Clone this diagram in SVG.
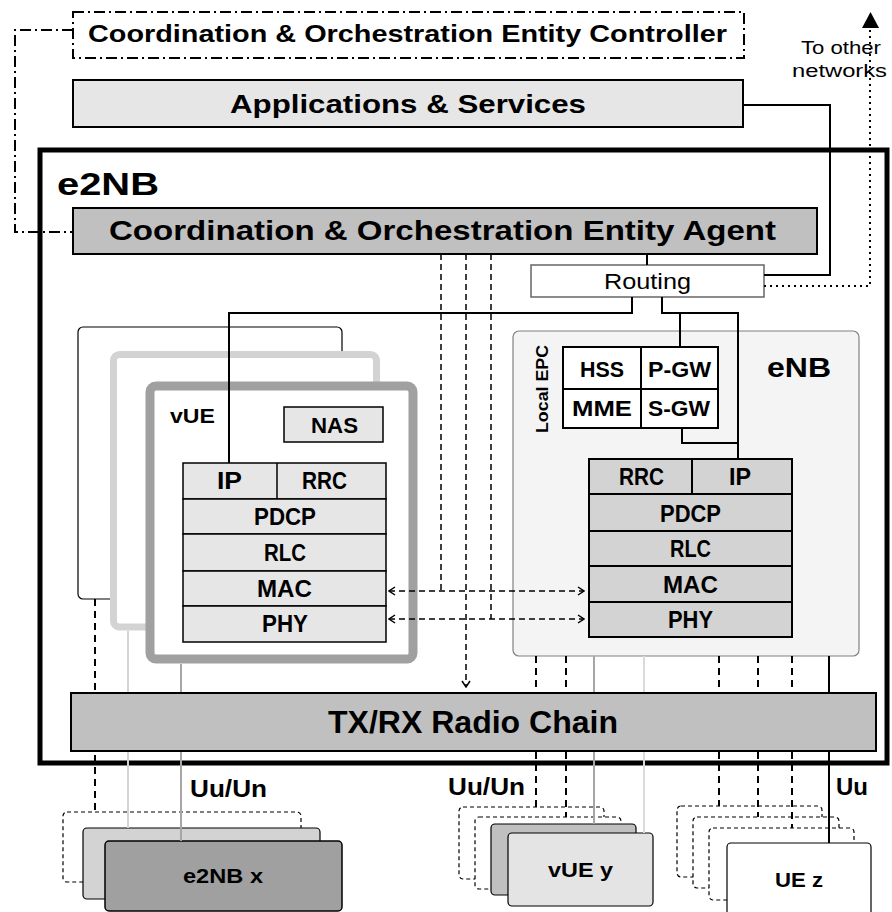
<svg xmlns="http://www.w3.org/2000/svg" width="892" height="912" viewBox="0 0 892 912">
<defs>
<style>
text{font-family:"Liberation Sans",Arial,sans-serif;font-weight:bold;fill:#000}
.reg{font-weight:normal}
.box{stroke:#000;stroke-width:2}
.l1{fill:#e6e6e6}
.l2{fill:#c0c0c0}
.l3{fill:#d3d3d3}
.ln{fill:none;stroke:#000;stroke-width:2}
.dsh{fill:none;stroke:#000;stroke-width:2;stroke-dasharray:7 5}
.dthin{fill:none;stroke:#000;stroke-width:1.5;stroke-dasharray:6 4}
.dbox{fill:#fff;stroke:#000;stroke-width:1.2;stroke-dasharray:4 3}
.dd{fill:none;stroke:#000;stroke-width:2;stroke-dasharray:11 4 2 4}
</style>
<marker id="chev" viewBox="0 0 8 10" refX="7" refY="5" markerWidth="8" markerHeight="10" markerUnits="userSpaceOnUse" orient="auto-start-reverse">
<path d="M1,1 L7,5 L1,9" fill="none" stroke="#000" stroke-width="1.5"/>
</marker>
</defs>
<rect width="892" height="912" fill="#fff"/>

<g id="e2nb">
<rect x="40" y="150" width="847" height="613" fill="none" stroke="#000" stroke-width="5"/>
<text x="57" y="195" font-size="31" textLength="102" lengthAdjust="spacingAndGlyphs">e2NB</text>
</g>

<g id="controller">
<rect x="73" y="12" width="671" height="46" fill="#fff" class="dd"/>
<text x="88" y="42" font-size="24" textLength="639" lengthAdjust="spacingAndGlyphs">Coordination &amp; Orchestration Entity Controller</text>
</g>

<g id="apps">
<rect x="73" y="80" width="670" height="47" class="box l1"/>
<text x="230" y="113" font-size="26" textLength="356" lengthAdjust="spacingAndGlyphs">Applications &amp; Services</text>
</g>

<g id="agent">
<rect x="73" y="208" width="744" height="46" class="box l2"/>
<text x="109" y="240" font-size="28" textLength="667" lengthAdjust="spacingAndGlyphs">Coordination &amp; Orchestration Entity Agent</text>
</g>

<g id="routing">
<rect x="531" y="265" width="233" height="32" fill="#fff" stroke="#666" stroke-width="1.5"/>
<text class="reg" x="604" y="289" font-size="22" textLength="87" lengthAdjust="spacingAndGlyphs">Routing</text>
</g>

<g id="vue-frames">
<rect x="78" y="327" width="264" height="272" rx="5" fill="#fff" stroke="#000" stroke-width="1.2"/>
<rect x="113.5" y="354.5" width="263" height="272.5" rx="6" fill="#fff" stroke="#d3d3d3" stroke-width="7"/>
<rect x="150" y="386" width="263" height="273" rx="6" fill="#fff" stroke="#a0a0a0" stroke-width="9"/>
<text x="170" y="423" font-size="20" textLength="45" lengthAdjust="spacingAndGlyphs">vUE</text>
</g>

<g id="enb-frame">
<rect x="513" y="331" width="346" height="325" rx="6" fill="#f4f4f4" stroke="#808080" stroke-width="1.2"/>
<text x="767" y="377" font-size="28" textLength="64" lengthAdjust="spacingAndGlyphs">eNB</text>
<text transform="translate(548,433) rotate(-90)" x="0" y="0" font-size="17" textLength="88" lengthAdjust="spacingAndGlyphs">Local EPC</text>
</g>

<g id="e2nb-x">
<rect x="63" y="812" width="238" height="70" rx="4" class="dbox"/>
<rect x="83" y="828" width="237" height="71" rx="4" fill="#d3d3d3" stroke="#000" stroke-width="1.2"/>
<rect x="105" y="841" width="237" height="70" rx="4" fill="#a0a0a0" stroke="#000" stroke-width="1.5"/>
<text x="183" y="883" font-size="21" textLength="80" lengthAdjust="spacingAndGlyphs">e2NB x</text>
</g>

<g id="vue-y">
<rect x="459" y="807" width="145" height="72" rx="4" class="dbox"/>
<rect x="475" y="817" width="146" height="72" rx="4" class="dbox"/>
<rect x="491" y="824" width="145" height="71" rx="4" fill="#c0c0c0" stroke="#000" stroke-width="1.2"/>
<rect x="508" y="833" width="145" height="73" rx="4" fill="#e4e4e4" stroke="#000" stroke-width="1.2"/>
<text x="548" y="877" font-size="21" textLength="65" lengthAdjust="spacingAndGlyphs">vUE y</text>
</g>

<g id="ue-z">
<rect x="677" y="806" width="145" height="71" rx="4" class="dbox"/>
<rect x="693" y="817" width="146" height="71" rx="4" class="dbox"/>
<rect x="709" y="828" width="145" height="72" rx="4" class="dbox"/>
<rect x="727" y="843" width="144" height="80" rx="4" fill="#fff" stroke="#000" stroke-width="1.2"/>
<text x="775" y="887" font-size="21" textLength="48" lengthAdjust="spacingAndGlyphs">UE z</text>
</g>

<g id="connectors">
<path class="dd" d="M73,30 H15 V232 H73"/>
<path class="ln" d="M743,105 H830 V275 H764"/>
<path d="M764,286 H870 V28" fill="none" stroke="#000" stroke-width="2" stroke-dasharray="2 4"/>
<polygon points="862,28 879,28 870.5,12" fill="#000"/>
<text class="reg" x="801" y="54" font-size="18" textLength="80" lengthAdjust="spacingAndGlyphs">To other</text>
<text class="reg" x="792" y="77" font-size="18" textLength="95" lengthAdjust="spacingAndGlyphs">networks</text>
<path class="ln" d="M647,254 V265"/>
<path class="ln" d="M632,297 V313 H229 V463"/>
<path class="ln" d="M662,297 V313 H738 V459"/>
<path class="ln" d="M680,313 V347"/>
<path class="ln" d="M682,428 V443 H738"/>
<path class="dthin" d="M441,254 V591"/>
<path class="dthin" d="M466,254 V687" marker-end="url(#chev)"/>
<path class="dthin" d="M491,254 V619"/>
<path class="dthin" d="M389,591 H584" marker-start="url(#chev)" marker-end="url(#chev)"/>
<path class="dthin" d="M389,619 H584" marker-start="url(#chev)" marker-end="url(#chev)"/>
<path class="dsh" d="M95,599 V812"/>
<path d="M128,631 V828" stroke="#d3d3d3" stroke-width="2" fill="none"/>
<path d="M181,664 V841" stroke="#a6a6a6" stroke-width="2" fill="none"/>
<path class="dsh" d="M536,656 V807"/>
<path class="dsh" d="M566,656 V817"/>
<path d="M594,656 V824" stroke="#a6a6a6" stroke-width="2" fill="none"/>
<path d="M644,656 V833" stroke="#dadada" stroke-width="2" fill="none"/>
<path class="dsh" d="M719,656 V806"/>
<path class="dsh" d="M758,656 V817"/>
<path class="dsh" d="M792,656 V828"/>
<path class="ln" d="M829,656 V843"/>
<text x="190" y="797" font-size="23" textLength="77" lengthAdjust="spacingAndGlyphs">Uu/Un</text>
<text x="448" y="795" font-size="23" textLength="77" lengthAdjust="spacingAndGlyphs">Uu/Un</text>
<text x="836" y="795" font-size="23" textLength="32" lengthAdjust="spacingAndGlyphs">Uu</text>
</g>

<g id="txrx">
<rect x="71" y="693" width="805" height="58" class="box l2"/>
<text x="328" y="733" font-size="32" textLength="290" lengthAdjust="spacingAndGlyphs">TX/RX Radio Chain</text>
</g>

<g id="nas">
<rect x="284" y="407" width="99" height="35" stroke="#000" stroke-width="1.5" class="l1"/>
<text x="311" y="433" font-size="22" textLength="47" lengthAdjust="spacingAndGlyphs">NAS</text>
</g>

<g id="vue-stack" stroke="#000" stroke-width="1.5">
<rect x="183" y="463" width="203" height="36" class="l1"/>
<line x1="277" y1="463" x2="277" y2="499"/>
<rect x="183" y="499" width="203" height="35" class="l1"/>
<rect x="183" y="534" width="203" height="37" class="l1"/>
<rect x="183" y="571" width="203" height="35" class="l1"/>
<rect x="183" y="606" width="203" height="36" class="l1"/>
<g stroke="none">
<text x="217" y="489" font-size="23" textLength="25" lengthAdjust="spacingAndGlyphs">IP</text>
<text x="302" y="489" font-size="23" textLength="45" lengthAdjust="spacingAndGlyphs">RRC</text>
<text x="254" y="525" font-size="23" textLength="62" lengthAdjust="spacingAndGlyphs">PDCP</text>
<text x="264" y="561" font-size="23" textLength="42" lengthAdjust="spacingAndGlyphs">RLC</text>
<text x="257" y="597" font-size="23" textLength="55" lengthAdjust="spacingAndGlyphs">MAC</text>
<text x="262" y="632" font-size="23" textLength="46" lengthAdjust="spacingAndGlyphs">PHY</text>
</g>
</g>

<g id="epc" stroke="#000" stroke-width="2">
<rect x="563" y="347" width="155" height="81" fill="#fff"/>
<line x1="563" y1="389" x2="718" y2="389"/>
<line x1="641" y1="347" x2="641" y2="428"/>
<g stroke="none">
<text x="580" y="377" font-size="22" textLength="44" lengthAdjust="spacingAndGlyphs">HSS</text>
<text x="648" y="377" font-size="22" textLength="63" lengthAdjust="spacingAndGlyphs">P-GW</text>
<text x="572" y="416" font-size="22" textLength="60" lengthAdjust="spacingAndGlyphs">MME</text>
<text x="648" y="416" font-size="22" textLength="62" lengthAdjust="spacingAndGlyphs">S-GW</text>
</g>
</g>

<g id="enb-stack" stroke="#000" stroke-width="2">
<rect x="589" y="459" width="203" height="35" class="l3"/>
<line x1="692" y1="459" x2="692" y2="494"/>
<rect x="589" y="494" width="203" height="37" class="l3"/>
<rect x="589" y="531" width="203" height="35" class="l3"/>
<rect x="589" y="566" width="203" height="36" class="l3"/>
<rect x="589" y="602" width="203" height="35" class="l3"/>
<g stroke="none">
<text x="619" y="485" font-size="23" textLength="45" lengthAdjust="spacingAndGlyphs">RRC</text>
<text x="729" y="485" font-size="23" textLength="22" lengthAdjust="spacingAndGlyphs">IP</text>
<text x="660" y="522" font-size="23" textLength="61" lengthAdjust="spacingAndGlyphs">PDCP</text>
<text x="670" y="557" font-size="23" textLength="41" lengthAdjust="spacingAndGlyphs">RLC</text>
<text x="663" y="593" font-size="23" textLength="55" lengthAdjust="spacingAndGlyphs">MAC</text>
<text x="668" y="628" font-size="23" textLength="45" lengthAdjust="spacingAndGlyphs">PHY</text>
</g>
</g>
</svg>
